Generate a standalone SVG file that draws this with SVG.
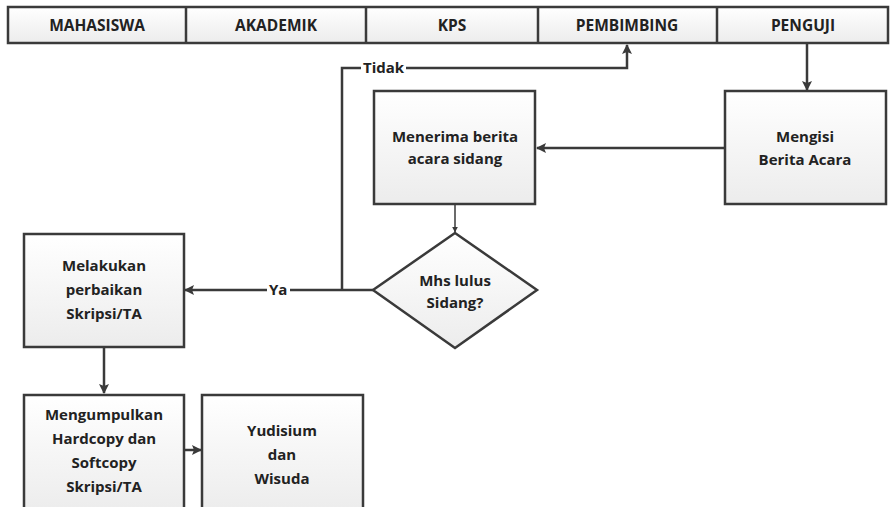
<svg xmlns="http://www.w3.org/2000/svg" width="896" height="507" viewBox="0 0 896 507">
<defs>
<linearGradient id="g" x1="0" y1="0" x2="0" y2="1">
<stop offset="0" stop-color="#ffffff"/>
<stop offset="1" stop-color="#ececec"/>
</linearGradient>
<marker id="ah" viewBox="0 0 10 10" refX="9" refY="5" markerWidth="6" markerHeight="6" orient="auto" markerUnits="userSpaceOnUse">
<path d="M0,0 L10,5 L0,10 z" fill="#3a3a3a"/>
</marker>
<marker id="a" viewBox="0 0 10 10" refX="9" refY="5" markerWidth="10" markerHeight="10" orient="auto" markerUnits="userSpaceOnUse">
<path d="M0,0 L10,5 L0,10 L2,5 z" fill="#3a3a3a"/>
</marker>
</defs>
<style>
.box{fill:url(#g);stroke:#3a3a3a;stroke-width:2.5}
.hd{fill:url(#g);stroke:#3a3a3a;stroke-width:2.5}
.t{font-family:"Open Sans","Liberation Sans",sans-serif;font-weight:700;font-size:15px;fill:#222;text-anchor:middle}
.h{font-family:"Open Sans","Liberation Sans",sans-serif;font-weight:700;font-size:15.5px;fill:#222;text-anchor:middle}
.c{fill:none;stroke:#3a3a3a;stroke-width:2.5}
.lb{font-family:"Open Sans","Liberation Sans",sans-serif;font-weight:700;font-size:15px;fill:#222}
</style>
<rect width="896" height="507" fill="#ffffff"/>
<g id="header">
<rect class="hd" x="8" y="7" width="880" height="36"/>
<line class="c" x1="186" y1="7" x2="186" y2="43"/>
<line class="c" x1="366" y1="7" x2="366" y2="43"/>
<line class="c" x1="538" y1="7" x2="538" y2="43"/>
<line class="c" x1="717" y1="7" x2="717" y2="43"/>
<text class="h" x="97" y="31">MAHASISWA</text>
<text class="h" x="276" y="31">AKADEMIK</text>
<text class="h" x="452" y="31">KPS</text>
<text class="h" x="627" y="31">PEMBIMBING</text>
<text class="h" x="803" y="31">PENGUJI</text>
</g>
<g id="connectors">
<line class="c" x1="807" y1="44" x2="807" y2="90" marker-end="url(#a)"/>
<line class="c" x1="725" y1="148" x2="537" y2="148" marker-end="url(#a)"/>
<line x1="455" y1="205" x2="455" y2="232" stroke="#3a3a3a" stroke-width="1.5" marker-end="url(#ah)"/>
<line class="c" x1="373" y1="290" x2="290" y2="290"/>
<line class="c" x1="267" y1="290" x2="185" y2="290" marker-end="url(#a)"/>
<polyline class="c" points="342,290 342,68 361,68"/>
<polyline class="c" points="406,68 627,68 627,45" marker-end="url(#a)"/>
<line class="c" x1="104" y1="347" x2="104" y2="393" marker-end="url(#a)"/>
<line class="c" x1="184" y1="450" x2="201" y2="450" marker-end="url(#a)"/>
<text class="lb" x="363" y="73">Tidak</text>
<text class="lb" x="269" y="295">Ya</text>
</g>
<g id="n_mengisi">
<rect class="box" x="725" y="91" width="161" height="113"/>
<text class="t" x="805" y="142">Mengisi</text>
<text class="t" x="805" y="165">Berita Acara</text>
</g>
<g id="n_menerima">
<rect class="box" x="374" y="91" width="161" height="113"/>
<text class="t" x="455" y="142">Menerima berita</text>
<text class="t" x="455" y="164">acara sidang</text>
</g>
<g id="n_lulus">
<polygon class="box" points="455,233 537,290 455,348 373,290"/>
<text class="t" x="455" y="286">Mhs lulus</text>
<text class="t" x="455" y="308">Sidang?</text>
</g>
<g id="n_perbaikan">
<rect class="box" x="24" y="234" width="160" height="113"/>
<text class="t" x="104" y="271">Melakukan</text>
<text class="t" x="104" y="295">perbaikan</text>
<text class="t" x="104" y="319">Skripsi/TA</text>
</g>
<g id="n_kumpul">
<rect class="box" x="24" y="395" width="160" height="118"/>
<text class="t" x="104" y="420">Mengumpulkan</text>
<text class="t" x="104" y="444">Hardcopy dan</text>
<text class="t" x="104" y="468">Softcopy</text>
<text class="t" x="104" y="492">Skripsi/TA</text>
</g>
<g id="n_yudisium">
<rect class="box" x="202" y="395" width="161" height="118"/>
<text class="t" x="282" y="436">Yudisium</text>
<text class="t" x="282" y="460">dan</text>
<text class="t" x="282" y="484">Wisuda</text>
</g>
</svg>
